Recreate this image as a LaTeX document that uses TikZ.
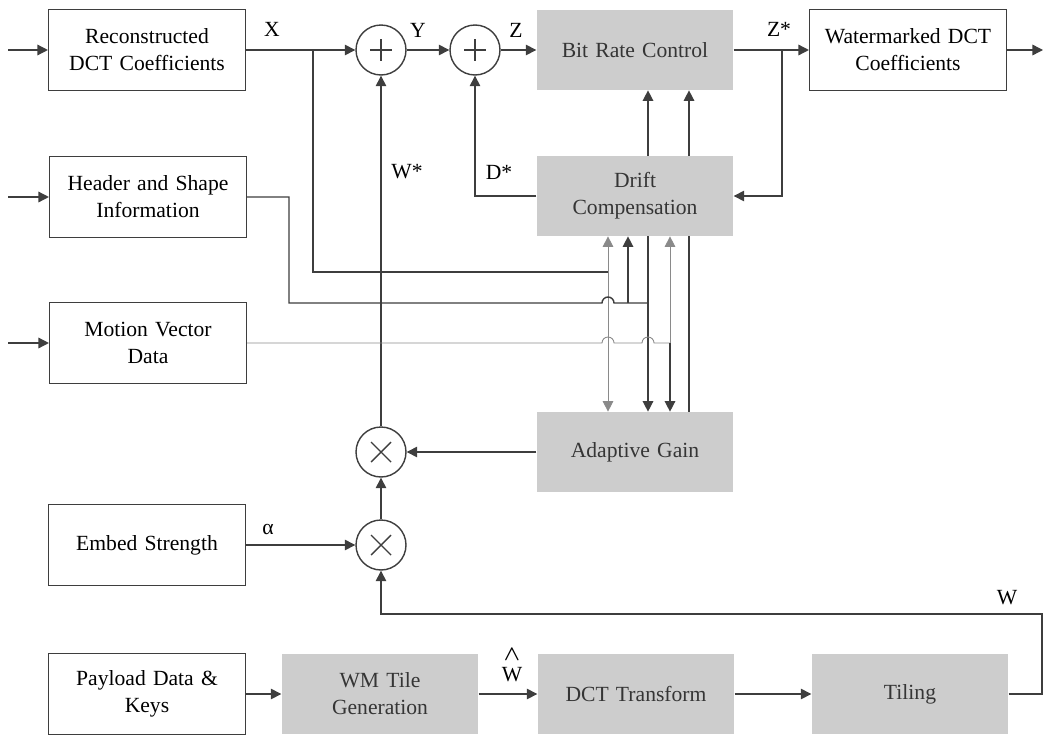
\documentclass[tikz,border=0pt]{standalone}
\usepackage{fontspec}
\setmainfont{Liberation Serif}
\usepackage{amsmath}
\usepackage{amsbsy}
\usetikzlibrary{arrows.meta, positioning, calc, backgrounds}
\definecolor{blockgray}{HTML}{CDCDCD}
\definecolor{wiregray}{HTML}{3E3E3E}
\definecolor{thingray}{HTML}{8A8A8A}
\definecolor{labelgray}{HTML}{353535}
\newcommand{\blockfont}{\fontsize{12.3}{15.3}\selectfont}
\tikzset{
  wbox/.style={rectangle, draw=wiregray, fill=white, line width=0.8pt,
               minimum width=3.9cm, minimum height=1.63cm, text width=3.7cm,
               align=center, font=\blockfont},
  gbox/.style={rectangle, fill=blockgray, minimum width=3.9cm,
               minimum height=1.6cm, text width=3.7cm, align=center,
               font=\blockfont, text=labelgray},
  sumnode/.style={circle, draw=wiregray, fill=white, line width=0.8pt,
                  minimum size=1cm, inner sep=0pt,
                  path picture={\draw[line width=0.8pt]
                    (path picture bounding box.center) +(-0.22cm,0) -- +(0.22cm,0)
                    (path picture bounding box.center) +(0,-0.22cm) -- +(0,0.22cm);}},
  mulnode/.style={circle, draw=wiregray, fill=white, line width=0.8pt,
                  minimum size=1cm, inner sep=0pt,
                  path picture={\draw[line width=0.8pt]
                    (path picture bounding box.center) +(-0.2cm,-0.2cm) -- +(0.2cm,0.2cm)
                    (path picture bounding box.center) +(-0.2cm,0.2cm) -- +(0.2cm,-0.2cm);}},
  wire/.style={line width=0.8pt, draw=wiregray},
  faint/.style={line width=0.5pt, draw=thingray},
  arr/.style={-{Triangle[length=6pt, width=6pt]}, wire},
  sig/.style={font=\blockfont, inner sep=0pt},
}

\begin{document}
\begin{tikzpicture}[x=0.02cm, y=-0.02cm]
  \useasboundingbox (0,0) rectangle (1044,737);

  % input blocks
  \node[wbox] (recon) at (147,50) {Reconstructed\\DCT Coefficients};
  \node[wbox] (header) at (148,197) {Header and Shape\\Information};
  \node[wbox] (motion) at (148,343) {Motion Vector\\Data};
  \node[wbox] (embed) at (147,545) {Embed Strength};
  \node[wbox] (payload) at (147,694) {Payload Data \&\\Keys};

  % processing blocks
  \node[gbox] (bitrate) at (635,50) {Bit Rate Control};
  \node[gbox] (drift) at (635,196) {Drift\\Compensation};
  \node[gbox] (adapt) at (635,452) {Adaptive Gain};
  \node[wbox] (wmdct) at (908,50) {Watermarked DCT\\Coefficients};
  \node[gbox] (wmtile) at (380,694) {WM Tile\\Generation};
  \node[gbox] (dct) at (636,694) {DCT Transform};
  \node[gbox] (tiling) at (910,694) {Tiling};

  % adders and multipliers
  \node[sumnode] (add1) at (381,50) {};
  \node[sumnode] (add2) at (475,50) {};
  \node[mulnode] (mul1) at (381,452) {};
  \node[mulnode] (mul2) at (381,545) {};

  % branch points
  \coordinate (in1) at (8,50);
  \coordinate (in2) at (8,197);
  \coordinate (in3) at (8,343);
  \coordinate (out1) at (1043,50);
  \coordinate (xsplit) at (313,50);
  \coordinate (xend) at (608,272);
  \coordinate (hbend) at (289,303);
  \coordinate (hup) at (628,303);
  \coordinate (hjoin) at (648,303);
  \coordinate (mjoin) at (670,343);
  \coordinate (gx) at (689,452);
  \coordinate (zsplit) at (782,50);
  \coordinate (wturn1) at (1042,694);
  \coordinate (wturn2) at (1042,614);

  % signal labels
  \node[sig] (lx) at (272,29) {X};
  \node[sig] (ly) at (418,30) {Y};
  \node[sig] (lz) at (516,30) {Z};
  \node[sig] (lzs) at (779,29) {Z*};
  \node[sig] (lws) at (407,172) {W*};
  \node[sig] (lds) at (499,172) {D*};
  \node[sig] (la) at (268,530) {α};
  \node[sig] (lw) at (1007,598) {W};
  \node[sig] (lwh) at (512,664) {$\overset{\raisebox{1.5pt}{$\boldsymbol{\wedge}$}}{\text{W}}$};

  \begin{scope}[on background layer]
    % main signal path
    \draw[arr] (in1) -- (recon.west);
    \draw[arr] (in2) -- (header.west);
    \draw[arr] (in3) -- (motion.west);
    \draw[arr] (recon.east) -- (add1.west);
    \draw[arr] (add1.east) -- (add2.west);
    \draw[arr] (add2.east) -- (bitrate.west);
    \draw[arr] (bitrate.east) -- (wmdct.west);
    \draw[arr] (wmdct.east) -- (out1);

    % feedback
    \draw[arr] (zsplit) |- (drift.east);
    \draw[arr] (drift.west) -| (add2.south);
    \draw[arr] (mul1.north) -- (add1.south);
    \draw[arr] (adapt.west) -- (mul1.east);
    \draw[arr] (mul2.north) -- (mul1.south);
    \draw[arr] (embed.east) -- (mul2.west);

    % side information
    \draw[wire] (xsplit) |- (xend);
    \draw[faint, {Triangle[length=6pt, width=6pt]}-{Triangle[length=6pt, width=6pt]}]
      (xend |- drift.south) -- (xend |- adapt.north);
    \draw[wire] (header.east) -| (hbend) -- (602,303)
      arc[start angle=180, end angle=0, radius=0.12cm] -- (hjoin);
    \draw[arr] (hup) -- (hup |- drift.south);
    \draw[arr] (hjoin) -- (hjoin |- bitrate.south);
    \draw[arr] (hjoin) -- (hjoin |- adapt.north);
    \draw[faint] (motion.east) -- (602,343)
      arc[start angle=180, end angle=0, radius=0.12cm] -- (642,343)
      arc[start angle=180, end angle=0, radius=0.12cm] -- (mjoin);
    \draw[arr, faint] (mjoin) -- (mjoin |- drift.south);
    \draw[arr] (mjoin) -- (mjoin |- adapt.north);
    \draw[arr] (gx |- adapt.north) -- (gx |- bitrate.south);

    % watermark generation
    \draw[arr] (payload.east) -- (wmtile.west);
    \draw[arr] (wmtile.east) -- (dct.west);
    \draw[arr] (dct.east) -- (tiling.west);
    \draw[arr] (tiling.east) -- (wturn1) -- (wturn2) -| (mul2.south);
  \end{scope}
\end{tikzpicture}
\end{document}
